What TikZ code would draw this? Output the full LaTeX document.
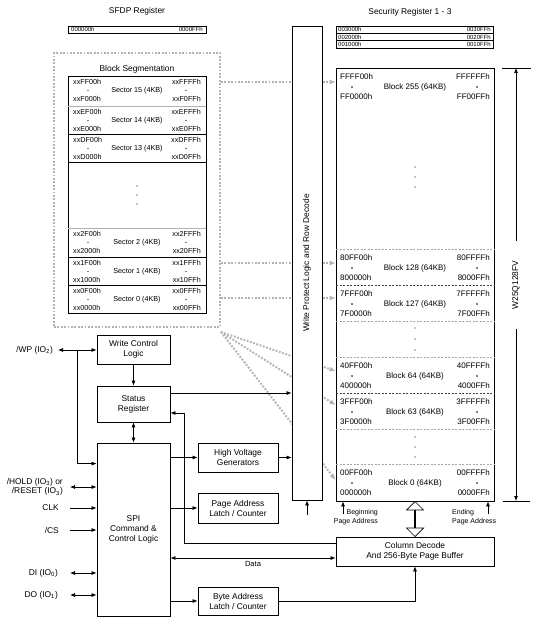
\documentclass[tikz,border=0pt]{standalone}
\usepackage{fontspec}
\setmainfont{Liberation Sans}
\usetikzlibrary{arrows.meta,shapes.arrows,backgrounds,calc}

\tikzset{
  blk/.style={draw, line width=0.8pt, fill=white, align=center, inner sep=0pt, font=\fontsize{8.4}{10}\selectfont},
  txt/.style={inner sep=0pt, font=\fontsize{8.4}{10}\selectfont},
  addr/.style={inner sep=0pt, font=\fontsize{8}{9}\selectfont},
  secaddr/.style={inner sep=0pt, font=\fontsize{7.2}{8}\selectfont},
  regaddr/.style={inner sep=0pt, font=\fontsize{6}{6}\selectfont},
  pinlbl/.style={anchor=east, align=right, inner ysep=0pt, font=\fontsize{8.4}{9.5}\selectfont},
  dotmark/.style={circle, fill, inner sep=0pt, minimum size=1.7pt},
  wire/.style={line width=0.7pt},
  segline/.style={gray!60, line width=2pt, dash pattern=on 1.8pt off 1.6pt},
  segtip/.style={-{Latex[length=6pt,width=5pt]}},
  blkdiv/.style={gray!70, line width=0.5pt, dash pattern=on 2pt off 1.5pt},
}

\begin{document}
\begin{tikzpicture}[x=1pt, y=-1pt, >={Latex[length=5pt,width=4pt]}]
\useasboundingbox (0,0) rectangle (539,620);

% SFDP and security registers
\node[txt] (sfdpttl) at (137,11) {SFDP Register};
\draw[line width=0.8pt] (68,26) rectangle (206,33);
\node[regaddr, anchor=west] (sfdplo) at (71,29.5) {000000h};
\node[regaddr, anchor=east] (sfdphi) at (203,29.5) {0000FFh};

\node[txt] (secttl) at (410,12) {Security Register 1 - 3};
\draw[line width=0.8pt] (336,26) rectangle (493,48);
\draw (336,33.3) -- (493,33.3);
\draw (336,40.7) -- (493,40.7);
\foreach \r/\n in {0/3,1/2,2/1} {
  \node[regaddr, anchor=west] (sec\n lo) at (338,29.7+7.3*\r) {00\n000h};
  \node[regaddr, anchor=east] (sec\n hi) at (491,29.7+7.3*\r) {00\n0FFh};
}

% memory array with the 64KB blocks
\node[draw, line width=0.8pt, minimum width=158, minimum height=433, inner sep=0pt] (array) at (415,284.5) {};
\foreach \y in {249,321,357,429,464} \draw[blkdiv] (336,\y) -- (494,\y);
\foreach \y in {285,393} \draw[blkdiv, black!75] (336,\y) -- (494,\y);
\foreach \ty/\n/\hx in {68/255/FF, 249/128/80, 285/127/7F, 357/64/40, 393/63/3F, 464/0/00} {
  \node[addr, anchor=west] (b\n a) at (340,\ty+9) {\hx FF00h};
  \node[dotmark] (b\n b) at (352,\ty+19) {};
  \node[addr, anchor=west] (b\n c) at (340,\ty+29) {\hx 0000h};
  \node[addr, anchor=east] (b\n d) at (490,\ty+9) {\hx FFFFh};
  \node[dotmark] (b\n e) at (477,\ty+19) {};
  \node[addr, anchor=east] (b\n f) at (490,\ty+29) {\hx 00FFh};
  \node[addr] (b\n) at (415,\ty+19) {Block \n\ (64KB)};
}
\foreach \y in {167,177,187,328,339,350,437,447,457} \node[dotmark, minimum size=1.4pt] at (415,\y) {};

% chip size marker
\draw[wire] (502,68) -- (531,68);
\draw[wire] (503,501) -- (530,501);
\coordinate (dimtop) at (516,68);
\coordinate (dimbot) at (516,501);
\node[txt, rotate=90, inner xsep=20pt] (chip) at (516,285) {W25Q128FV};
\draw[wire,->] (chip) -- (dimtop);
\draw[wire,->] (chip) -- (dimbot);

% page address pointers
\coordinate (bpa) at (343,514);
\coordinate (epa) at (488,514);
\draw[wire,->] (bpa) -- (bpa |- array.south);
\draw[wire,->] (epa) -- (epa |- array.south);
\node[inner sep=0pt, align=right, anchor=north east, font=\fontsize{7}{9}\selectfont] (bpalbl) at (378,509) {Beginning\\Page Address};
\node[inner sep=0pt, align=left, anchor=north west, font=\fontsize{7}{9}\selectfont] (epalbl) at (452,509) {Ending\\Page Address};

% block segmentation
\node[draw=gray!60, line width=2pt, dash pattern=on 1.8pt off 1.6pt, minimum width=166, minimum height=274, inner sep=0pt] (blockseg) at (137,190) {};
\node[txt] (segttl) at (137,69) {Block Segmentation};
\draw[line width=0.8pt] (68,76) rectangle (206,313);
\foreach \y in {106,228} \draw[gray!60, line width=0.5pt] (68,\y) -- (206,\y);
\foreach \y in {134,162,257,285} \draw[line width=0.8pt] (68,\y) -- (206,\y);
\foreach \ty/\n/\hx in {76/15/F, 106/14/E, 134/13/D, 228/2/2, 257/1/1, 285/0/0} {
  \node[secaddr, anchor=west] (s\n a) at (73,\ty+6) {xx\hx F00h};
  \node[dotmark, minimum size=1.4pt] (s\n b) at (88,\ty+14.5) {};
  \node[secaddr, anchor=west] (s\n c) at (73,\ty+23) {xx\hx 000h};
  \node[secaddr, anchor=east] (s\n d) at (201,\ty+6) {xx\hx FFFh};
  \node[dotmark, minimum size=1.4pt] (s\n e) at (186,\ty+14.5) {};
  \node[secaddr, anchor=east] (s\n f) at (201,\ty+23) {xx\hx 0FFh};
  \node[secaddr] (s\n) at (137,\ty+15) {Sector \n\ (4KB)};
}
\foreach \y in {186,195,204} \node[dotmark, minimum size=1.4pt] at (137,\y) {};

% logic blocks
\node[blk, minimum width=73, minimum height=29] (wcl) at (133.5,349.5) {Write Control\\Logic};
\node[blk, minimum width=73, minimum height=36] (sreg) at (133.5,404) {Status\\Register};
\node[blk, minimum width=73, minimum height=173] (spi) at (133.5,529.5) {SPI\\Command \&\\Control Logic};
\node[blk, minimum width=80, minimum height=29] (hvg) at (238,457.5) {High Voltage\\Generators};
\node[blk, minimum width=80, minimum height=30] (pal) at (238,508) {Page Address\\Latch / Counter};
\node[blk, minimum width=80, minimum height=28] (bal) at (238,601) {Byte Address\\Latch / Counter};
\node[blk, minimum width=30, minimum height=474] (wp) at (307,263) {};
\node[txt, rotate=90] (wplbl) at (wp) {Write Protect Logic and Row Decode};
\node[blk, minimum width=158, minimum height=29] (col) at (415,551.5) {Column Decode\\And 256-Byte Page Buffer};
\node[draw, line width=0.7pt, fill=white, double arrow, rotate=90, inner sep=0pt, minimum height=35pt, minimum width=17pt, double arrow head extend=5.5pt] (bus) at ($(array.south)!0.5!(col.north)$) {};

% pins
\node[pinlbl, inner xsep=5pt] (wppin) at (58,350) {/WP (IO\textsubscript{2})};
\node[pinlbl, inner xsep=7pt] (hold) at (70,487) {/HOLD (IO\textsubscript{3}) or\\/RESET (IO\textsubscript{3})};
\node[pinlbl, inner xsep=11pt] (clk) at (70,508) {CLK};
\node[pinlbl, inner xsep=11pt] (cs) at (70,530) {/CS};
\node[pinlbl, inner xsep=12pt] (di) at (70,573) {DI (IO\textsubscript{0})};
\node[pinlbl, inner xsep=12pt] (do) at (70,595) {DO (IO\textsubscript{1})};
\coordinate (wpsplit) at (77,350);
\draw[wire,<->] (wppin) -- (wppin -| wcl.west);
\draw[wire,->] (wpsplit) |- ([yshift=-21pt]spi.north west);
\draw[wire,<->] (hold) -- (hold -| spi.west);
\draw[wire,->] (clk) -- (clk -| spi.west);
\draw[wire,->] (cs) -- (cs -| spi.west);
\draw[wire,<->] (di) -- (di -| spi.west);
\draw[wire,<->] (do) -- (do -| spi.west);

% internal connections
\coordinate (srout) at ([yshift=11pt]sreg.east);
\coordinate (srfb) at ([yshift=-9pt]sreg.east);
\coordinate (colfb) at ([yshift=8.5pt]col.west);
\coordinate (coldata) at ([yshift=-6.5pt]col.west);
\coordinate (wpstub) at (307,515);
\draw[wire,->] (wcl) -- (sreg);
\draw[wire,<->] (sreg) -- (spi);
\draw[wire,->] (srout) -- (srout -| wp.west);
\draw[wire,->] (spi.east |- hvg) -- (hvg);
\draw[wire,->] (hvg) -- (hvg -| wp.west);
\draw[wire,->] (spi.east |- pal) -- (pal);
\draw[wire,->] (spi.east |- bal) -- (bal);
\draw[wire,->] (bal) -| (col);
\draw[wire,->] (colfb) -| ([xshift=14pt]srfb) -- (srfb);
\draw[wire,<->] (coldata) -- (coldata -| spi.east) node[midway, below=3pt, inner sep=0pt, font=\fontsize{7.5}{9}\selectfont] (data) {Data};
\draw[wire,->] (wpstub) -- (wp);

% dotted mapping from the sectors to the blocks
\begin{pgfonlayer}{background}
\foreach \y in {82,263,298} \draw[segline, segtip] (blockseg.east |- 0,\y) -- (array.west |- 0,\y);
\coordinate (fan) at (221,332);
\foreach \y in {371,405,480} \draw[segline, segtip] (fan) -- (array.west |- 0,\y);
\end{pgfonlayer}
\end{tikzpicture}
\end{document}
